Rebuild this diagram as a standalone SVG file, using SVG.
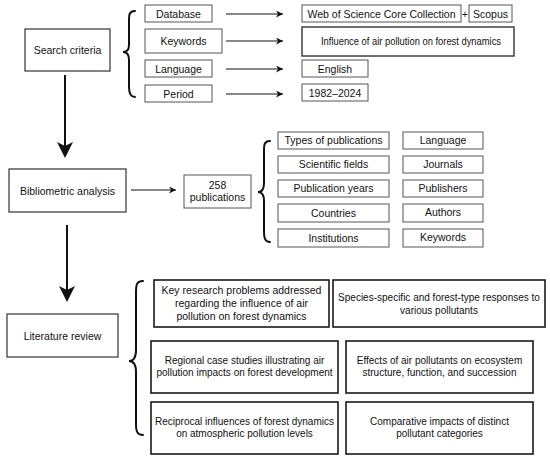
<svg xmlns="http://www.w3.org/2000/svg" width="550" height="459" viewBox="0 0 550 459">
<defs>
<style>
text{font-family:"Liberation Sans",Arial,Helvetica,sans-serif;font-size:10.5px;fill:#111;text-anchor:middle}
.lt{font-size:10px}
.thin{fill:#fff;stroke:#555;stroke-width:1}
.mid{fill:#fff;stroke:#333;stroke-width:1.2}
.thick{fill:#fff;stroke:#1a1a1a;stroke-width:1.6}
.line{stroke:#111;stroke-width:1.2;fill:none}
.vline{stroke:#111;stroke-width:2;fill:none}
.brace{stroke:#111;stroke-width:2;fill:none;stroke-linecap:round}
</style>
<marker id="ah" viewBox="0 0 10 10" refX="10" refY="5" markerWidth="7" markerHeight="7" markerUnits="userSpaceOnUse" orient="auto">
<path d="M0,0 L10,5 L0,10 L3,5 Z" fill="#111"/>
</marker>
</defs>

<g id="connectors">
<line class="line" x1="226" y1="14" x2="283" y2="14" marker-end="url(#ah)"/>
<line class="line" x1="226" y1="41" x2="283" y2="41" marker-end="url(#ah)"/>
<line class="line" x1="226" y1="69" x2="283" y2="69" marker-end="url(#ah)"/>
<line class="line" x1="226" y1="94" x2="283" y2="94" marker-end="url(#ah)"/>
<line class="line" x1="131" y1="190" x2="176" y2="190" marker-end="url(#ah)"/>
<line class="vline" x1="65" y1="75" x2="65" y2="148"/>
<path d="M65,158 L57,142 L65,146 L73,142 Z" fill="#111"/>
<line class="vline" x1="67" y1="225" x2="67" y2="292"/>
<path d="M67,302 L59,286 L67,290 L75,286 Z" fill="#111"/>
<path class="brace" d="M135,11 C129,11 129,15 129,21 L129,45 C129,50 127,52 123,52 C127,52 129,55 129,60 L129,87 C129,93 130,97 135,97"/>
<path class="brace" d="M270,141 C264,141 264,145 264,151 L264,183 C264,189 262,192 258,192 C262,192 264,195 264,201 L264,231 C264,238 265,242 270,242"/>
<path class="brace" d="M143,281 C136,281 136,286 136,293 L136,350 C136,357 134,361 129,361 C134,361 136,365 136,372 L136,424 C136,431 137,435 143,435"/>
</g>

<g id="search-criteria"><rect class="mid" x="25" y="29" width="85" height="42"/><text x="67.5" y="54">Search criteria</text></g>
<g id="database"><rect class="thin" x="145" y="5" width="67" height="17"/><text x="178.5" y="17.5">Database</text></g>
<g id="keywords"><rect class="thin" x="145" y="29" width="77" height="24"/><text x="183.5" y="45">Keywords</text></g>
<g id="language"><rect class="thin" x="145" y="60" width="67" height="17"/><text x="178.5" y="72.5">Language</text></g>
<g id="period"><rect class="thin" x="145" y="85" width="67" height="17"/><text x="178.5" y="97.5">Period</text></g>

<g id="wos"><rect class="thin" x="302" y="5" width="159" height="17"/><text x="381.5" y="17.5">Web of Science Core Collection</text></g>
<text x="465" y="18" style="font-size:10px">+</text>
<g id="scopus"><rect class="thin" x="469" y="5" width="43" height="17"/><text x="490.5" y="17.5">Scopus</text></g>
<g id="influence"><rect class="mid" x="302" y="27" width="212" height="29" style="stroke-width:1.4"/><text x="411" y="45" textLength="180" lengthAdjust="spacingAndGlyphs">Influence of air pollution on forest dynamics</text></g>
<g id="english"><rect class="thin" x="302" y="60" width="66" height="17"/><text x="335" y="72.5">English</text></g>
<g id="years"><rect class="thin" x="302" y="84" width="66" height="17"/><text x="335" y="96.5">1982–2024</text></g>

<g id="bibliometric"><rect class="mid" x="9" y="169" width="117" height="43"/><text x="67.5" y="194.5">Bibliometric analysis</text></g>
<g id="publications"><rect class="thin" x="184" y="175" width="67" height="33"/><text x="217.5" y="189">258</text><text x="217.5" y="200.5">publications</text></g>

<g id="types"><rect class="thin" x="278" y="132" width="111" height="17"/><text x="333.5" y="144">Types of publications</text></g>
<g id="fields"><rect class="thin" x="278" y="156" width="111" height="17"/><text x="333.5" y="168">Scientific fields</text></g>
<g id="pubyears"><rect class="thin" x="278" y="180" width="111" height="17"/><text x="333.5" y="192">Publication years</text></g>
<g id="countries"><rect class="thin" x="278" y="204" width="111" height="18"/><text x="333.5" y="216.5">Countries</text></g>
<g id="institutions"><rect class="thin" x="278" y="229" width="111" height="18"/><text x="333.5" y="241.5">Institutions</text></g>
<g id="b-language"><rect class="thin" x="403" y="132" width="80" height="17"/><text x="443" y="144">Language</text></g>
<g id="journals"><rect class="thin" x="403" y="156" width="80" height="17"/><text x="443" y="168">Journals</text></g>
<g id="publishers"><rect class="thin" x="403" y="180" width="80" height="17"/><text x="443" y="192">Publishers</text></g>
<g id="authors"><rect class="thin" x="403" y="204" width="80" height="18"/><text x="443" y="216">Authors</text></g>
<g id="b-keywords"><rect class="thin" x="403" y="229" width="80" height="18"/><text x="443" y="241">Keywords</text></g>

<g id="literature"><rect class="mid" x="7" y="314" width="111" height="43"/><text x="62.5" y="339.5">Literature review</text></g>

<g id="lit1"><rect class="thick" x="154" y="280" width="175" height="47"/><text x="241.5" y="294">Key research problems addressed</text><text x="241.5" y="307">regarding the influence of air</text><text x="241.5" y="320">pollution on forest dynamics</text></g>
<g id="lit2"><rect class="thick" x="333" y="280" width="212" height="47"/><text class="lt" x="439" y="301">Species-specific and forest-type responses to</text><text class="lt" x="439" y="313.5">various pollutants</text></g>
<g id="lit3"><rect class="thick" x="151" y="341" width="187" height="52"/><text class="lt" x="244.5" y="364">Regional case studies illustrating air</text><text class="lt" x="244.5" y="376">pollution impacts on forest development</text></g>
<g id="lit4"><rect class="thick" x="346" y="341" width="187" height="52"/><text class="lt" x="439.5" y="364">Effects of air pollutants on ecosystem</text><text class="lt" x="439.5" y="376">structure, function, and succession</text></g>
<g id="lit5"><rect class="thick" x="151" y="402" width="187" height="52"/><text class="lt" x="244.5" y="425">Reciprocal influences of forest dynamics</text><text class="lt" x="244.5" y="437">on atmospheric pollution levels</text></g>
<g id="lit6"><rect class="thick" x="346" y="402" width="187" height="52"/><text class="lt" x="439.5" y="425">Comparative impacts of distinct</text><text class="lt" x="439.5" y="437">pollutant categories</text></g>
</svg>
